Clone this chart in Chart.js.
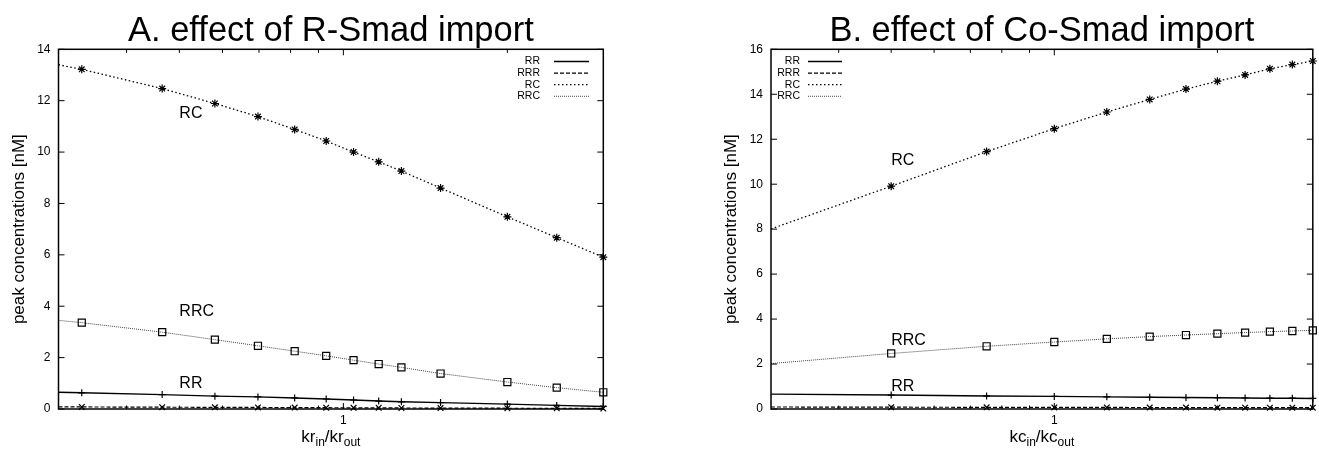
<!DOCTYPE html>
<html>
<head>
<meta charset="utf-8">
<script src="https://cdn.jsdelivr.net/npm/chart.js@4/dist/chart.umd.min.js"></script>
<style>
  body { margin: 0; background: #fff; width: 1319px; height: 452px; overflow: hidden; position: relative; }
  canvas { position: absolute; top: 0; }
  #chartA { left: 0; }
  #chartB { left: 660px; }
</style>
</head>
<body>
<canvas id="chartA" width="660" height="452"></canvas>
<canvas id="chartB" width="659" height="452"></canvas>
<script>
const FONT = "'Liberation Sans', Arial, sans-serif";

// panel A: kr_in/kr_out  (first entry = where the curve leaves the left border, no marker there)
const ratioA = [0.3, 0.331, 0.465, 0.581, 0.697, 0.814, 0.930, 1.044, 1.161, 1.278, 1.508, 2.0, 2.464, 3.0];
const rrA  = [0.65, 0.63, 0.56, 0.50, 0.47, 0.43, 0.39, 0.35, 0.31, 0.28, 0.25, 0.19, 0.14, 0.10];
const rrrA = [0.08, 0.08, 0.07, 0.065, 0.06, 0.055, 0.05, 0.047, 0.044, 0.04, 0.036, 0.03, 0.025, 0.02];
const rcA  = [13.40, 13.22, 12.47, 11.89, 11.38, 10.88, 10.43, 10.00, 9.62, 9.26, 8.60, 7.48, 6.67, 5.91];
const rrcA = [3.45, 3.36, 2.99, 2.70, 2.46, 2.25, 2.07, 1.90, 1.75, 1.62, 1.38, 1.05, 0.83, 0.65];

// panel B: kc_in/kc_out
const ratioB = [0.3, 0.5, 0.75, 1, 1.25, 1.5, 1.75, 2, 2.25, 2.5, 2.75, 3];
const rrB  = [0.66, 0.62, 0.58, 0.56, 0.54, 0.52, 0.51, 0.50, 0.49, 0.48, 0.48, 0.47];
const rrrB = [0.09, 0.08, 0.075, 0.07, 0.07, 0.065, 0.065, 0.06, 0.06, 0.06, 0.06, 0.06];
const rcB  = [8.01, 9.91, 11.45, 12.47, 13.21, 13.77, 14.23, 14.58, 14.86, 15.13, 15.32, 15.48];
const rrcB = [2.02, 2.47, 2.79, 2.98, 3.12, 3.22, 3.29, 3.35, 3.40, 3.44, 3.47, 3.50];

const seriesNames = ['RR', 'RRR', 'RC', 'RRC'];
const xTickValues = [0.4, 0.5, 0.6, 0.7, 0.8, 0.9, 1, 2];

// curve labels written on the plot (data coordinates)
const notesA = [['RC', 0.5, 11.5], ['RRC', 0.5, 3.8], ['RR', 0.5, 1.0]];
const notesB = [['RC', 0.5, 11.05], ['RRC', 0.5, 3.03], ['RR', 0.5, 1.0]];

const styles = {
  RR:  { dash: [],     width: 1.4, color: '#000', point: 'cross',    r: 3.5 },
  RRR: { dash: [4, 2], width: 1.2, color: '#000', point: 'crossRot', r: 4 },
  RC:  { dash: [1.5, 2.5], width: 1.3, color: '#000', point: 'star', r: 4 },
  RRC: { dash: [1, 1], width: 1,   color: '#444', point: 'rect',     r: 5 }
};

const gnuplotLook = {
  id: 'gnuplotLook',
  afterDatasetsDraw(chart, args, o) {
    const { ctx, chartArea: a, scales: { x, y } } = chart;
    ctx.save();
    ctx.strokeStyle = '#000';
    ctx.setLineDash([]);
    ctx.lineWidth = 1;
    ctx.beginPath();
    y.ticks.forEach(t => {
      const py = y.getPixelForValue(t.value);
      ctx.moveTo(a.left, py); ctx.lineTo(a.left + 6, py);
      ctx.moveTo(a.right, py); ctx.lineTo(a.right - 6, py);
    });
    x.ticks.forEach(t => {
      const px = x.getPixelForValue(t.value);
      const len = t.value === 1 ? 6 : 3.5;
      ctx.moveTo(px, a.bottom); ctx.lineTo(px, a.bottom - len);
      ctx.moveTo(px, a.top); ctx.lineTo(px, a.top + len);
    });
    ctx.stroke();
    ctx.lineWidth = 1.5;
    ctx.strokeRect(a.left, a.top, a.right - a.left, a.bottom - a.top);

    // key
    ctx.font = '10.5px ' + FONT;
    ctx.textBaseline = 'middle';
    ctx.textAlign = 'right';
    seriesNames.forEach((name, i) => {
      const st = styles[name];
      const ky = o.keyTop + i * 11.6;
      ctx.fillStyle = '#000';
      ctx.fillText(name, o.keyText, ky);
      ctx.beginPath();
      ctx.setLineDash(st.dash);
      ctx.lineWidth = st.width;
      ctx.strokeStyle = st.color;
      ctx.moveTo(o.keyLine[0], ky);
      ctx.lineTo(o.keyLine[1], ky);
      ctx.stroke();
    });
    ctx.setLineDash([]);

    // curve labels
    ctx.font = '16px ' + FONT;
    ctx.textAlign = 'left';
    ctx.fillStyle = '#000';
    o.notes.forEach(([txt, vx, vy]) => {
      ctx.fillText(txt, x.getPixelForValue(vx), y.getPixelForValue(vy));
    });

    // x axis title with subscripts
    ctx.textBaseline = 'alphabetic';
    const parts = o.xTitle;
    let total = 0;
    parts.forEach(([t, sz]) => { ctx.font = sz + 'px ' + FONT; total += ctx.measureText(t).width; });
    let cx = (a.left + a.right) / 2 - total / 2;
    parts.forEach(([t, sz, dy]) => {
      ctx.font = sz + 'px ' + FONT;
      ctx.fillText(t, cx, 441.5 + dy);
      cx += ctx.measureText(t).width;
    });
    ctx.restore();
  }
};

function buildDatasets(xs, vals) {
  return seriesNames.map((name, k) => {
    const st = styles[name];
    return {
      label: name,
      data: xs.map((v, i) => ({ x: v, y: vals[k][i] })),
      borderColor: st.color,
      borderWidth: st.width,
      borderDash: st.dash,
      pointStyle: st.point,
      pointRadius: c => c.dataIndex === 0 ? 0 : st.r,
      pointBorderColor: '#000',
      pointBackgroundColor: 'rgba(0,0,0,0)',
      pointBorderWidth: 1.2,
      tension: 0,
      clip: false,
      fill: false
    };
  });
}

function makeChart(id, p) {
  return new Chart(document.getElementById(id), {
    type: 'line',
    data: { datasets: buildDatasets(p.xs, p.vals) },
    options: {
      responsive: false,
      animation: false,
      devicePixelRatio: 1,
      layout: { padding: { left: 0, right: p.padRight, top: 0, bottom: 0 } },
      plugins: {
        legend: { display: false },
        tooltip: { enabled: false },
        title: {
          display: true,
          fullSize: false,
          text: p.title,
          color: '#000',
          font: { family: FONT, size: 34.5, weight: 'normal', lineHeight: 0.8 },
          padding: { top: 18, bottom: 3.7 }
        },
        gnuplotLook: { keyTop: 61.5, keyText: p.keyText, keyLine: p.keyLine, notes: p.notes, xTitle: p.xTitle }
      },
      scales: {
        x: {
          type: 'logarithmic',
          min: 0.3,
          max: 3,
          grid: { display: false, drawTicks: false, tickLength: 0 },
          border: { display: false },
          afterBuildTicks: s => { s.ticks = xTickValues.map(v => ({ value: v, major: v === 1 })); },
          afterFit: s => { s.height = 43; },
          ticks: {
            autoSkip: false,
            maxRotation: 0,
            padding: 4.5,
            color: '#000',
            font: { family: FONT, size: 12 },
            callback: v => (v === 1 ? '1' : '')
          }
        },
        y: {
          min: 0,
          max: p.yMax,
          grid: { display: false, drawTicks: false, tickLength: 0 },
          border: { display: false },
          afterFit: s => { s.width = p.axisWidth; },
          ticks: { stepSize: 2, padding: 8, color: '#000', font: { family: FONT, size: 12 } },
          title: {
            display: true,
            text: 'peak concentrations [nM]',
            color: '#000',
            font: { family: FONT, size: 17 },
            padding: { top: p.yTitlePad, bottom: 0 }
          }
        }
      }
    },
    plugins: [gnuplotLook]
  });
}

makeChart('chartA', {
  xs: ratioA,
  vals: [rrA, rrrA, rcA, rrcA],
  yMax: 14,
  title: 'A. effect of R-Smad import',
  padRight: 56.7,
  axisWidth: 58.5,
  yTitlePad: 8.8,
  keyText: 540,
  keyLine: [554, 589],
  notes: notesA,
  xTitle: [['kr', 17, 0], ['in', 12, 4], ['/kr', 17, 0], ['out', 12, 4]]
});

makeChart('chartB', {
  xs: ratioB,
  vals: [rrB, rrrB, rcB, rrcB],
  yMax: 16,
  title: 'B. effect of Co-Smad import',
  padRight: 3,
  axisWidth: 111,
  yTitlePad: 61.3,
  keyText: 140,
  keyLine: [148, 182],
  notes: notesB,
  xTitle: [['kc', 17, 0], ['in', 12, 4], ['/kc', 17, 0], ['out', 12, 4]]
});
</script>
</body>
</html>
